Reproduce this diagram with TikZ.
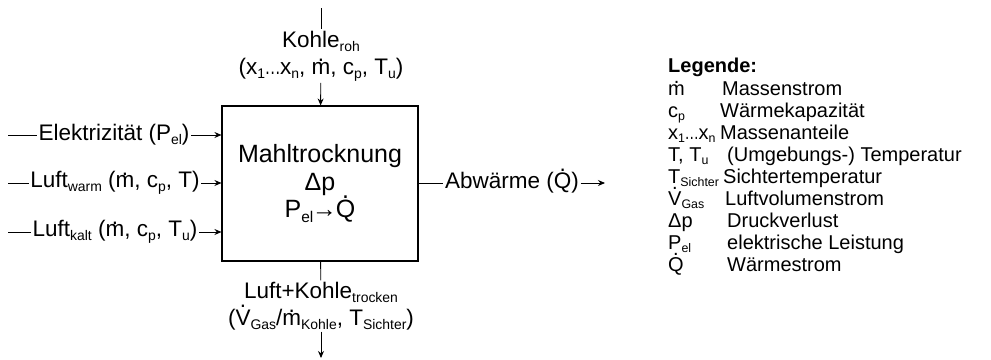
\documentclass[tikz,border=0pt]{standalone}
\usepackage{fontspec}
\setmainfont{Liberation Sans}
\usetikzlibrary{arrows.meta}
% lowered, smaller index text
\newcommand\sub[1]{\raisebox{-0.35ex}{\scalebox{0.62}{#1}}}
% dot placed over a letter (time derivative)
\newcommand\dt[2]{\ooalign{#2\cr\hidewidth\raisebox{#1}{.}\hidewidth\cr}}
\newcommand\mdot{\dt{0.56em}{m}}
\newcommand\Qdot{\dt{0.78em}{Q}}
\newcommand\Vdot{\dt{0.78em}{V}}
% compact ellipsis between indexed symbols
\newcommand\xdots{\kern-0.5pt\scalebox{0.72}[1]{…}\kern-0.5pt}

\begin{document}
\begin{tikzpicture}[x=1pt,y=-1pt,
  lbl/.style={font=\fontsize{22.5}{27}\selectfont, inner sep=1.5pt, align=center},
  flow/.style={line width=0.9pt, draw=black},
  arr/.style={flow,-{Stealth[length=7pt,width=6pt]}},
  leg/.style={font=\fontsize{20}{22}\selectfont, anchor=base west, inner sep=0pt},
]
\useasboundingbox (0,0) rectangle (991,359);

% process block
\node[draw, line width=1.1pt, minimum width=196, minimum height=155, align=center,
  font=\fontsize{25}{27.5}\selectfont, inner sep=0pt]
  (mill) at (320,183.5) {Mahltrocknung\\Δp\\P\sub{el}\kern-1.5pt→\kern-1pt\Qdot};

% raw coal from above
\coordinate (k0) at (321,8);
\node[lbl] (kohle) at (321,56) {Kohle\sub{roh}\\(x\sub{1}\xdots x\sub{n}, \mdot, c\sub{p}, T\sub{u})};
\draw[flow] (k0) -- (kohle);
\draw[arr] (kohle) -- (mill);

% dried product below
\node[lbl] (prod) at (321,306) {Luft+Kohle\sub{trocken}\\(\Vdot\sub{Gas}/\mdot\sub{Kohle}, T\sub{Sichter})};
\coordinate (p1) at (321,358);
\draw[flow] (mill) -- (prod);
\draw[arr] (prod) -- (p1);

% inputs from the left
\coordinate (e0) at (8,135);
\node[lbl] (el) at (114,135) {Elektrizität (P\sub{el})};
\draw[flow] (e0) -- (el);
\draw[arr] (el) -- (mill.west |- el);

\coordinate (w0) at (8,183);
\node[lbl] (warm) at (115,183) {Luft\sub{warm} (\mdot, c\sub{p}, T)};
\draw[flow] (w0) -- (warm);
\draw[arr] (warm) -- (mill.west |- warm);

\coordinate (c0) at (8,232);
\node[lbl] (kalt) at (115,232) {Luft\sub{kalt} (\mdot, c\sub{p}, T\sub{u})};
\draw[flow] (c0) -- (kalt);
\draw[arr] (kalt) -- (mill.west |- kalt);

% waste heat to the right
\node[lbl] (heat) at (512,183) {Abwärme (\Qdot)};
\coordinate (h1) at (605,183);
\draw[flow] (mill.east |- heat) -- (heat);
\draw[arr] (heat) -- (h1);

% legend
\node[leg, font=\fontsize{20}{22}\selectfont\bfseries] (legt) at (668,72) {Legende:};
\node[leg] (s1) at (668,95)  {\mdot};
\node[leg] (d1) at (722,95)  {Massenstrom};
\node[leg] (s2) at (668,117) {c\sub{p}};
\node[leg] (d2) at (720,117) {Wärmekapazität};
\node[leg] (s3) at (668,139) {x\sub{1}\xdots x\sub{n}};
\node[leg] (d3) at (720,139) {Massenanteile};
\node[leg] (s4) at (668,161) {T, T\sub{u}};
\node[leg] (d4) at (727,161) {(Umgebungs-) Temperatur};
\node[leg] (s5) at (668,183) {T\sub{Sichter}};
\node[leg] (d5) at (723,183) {Sichtertemperatur};
\node[leg] (s6) at (668,205) {\Vdot\sub{Gas}};
\node[leg] (d6) at (725,205) {Luftvolumenstrom};
\node[leg] (s7) at (668,227) {Δp};
\node[leg] (d7) at (727,227) {Druckverlust};
\node[leg] (s8) at (668,249) {P\sub{el}};
\node[leg] (d8) at (727,249) {elektrische Leistung};
\node[leg] (s9) at (668,271) {\Qdot};
\node[leg] (d9) at (727,271) {Wärmestrom};
\end{tikzpicture}
\end{document}
